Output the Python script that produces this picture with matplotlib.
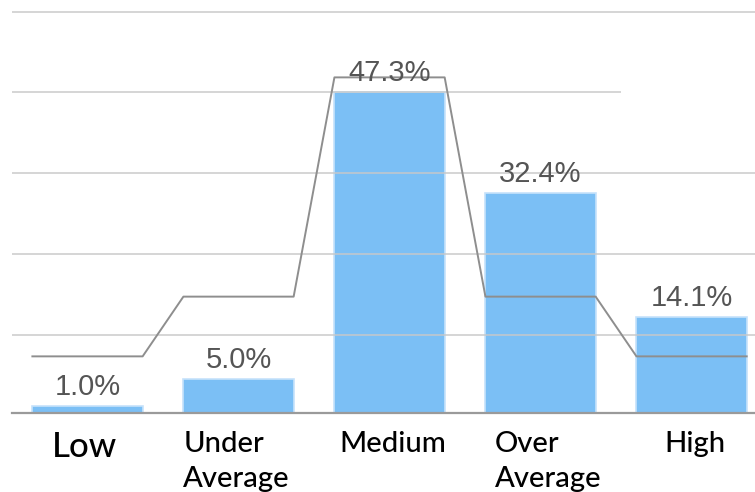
import numpy as np
import matplotlib
matplotlib.use("Agg")
import matplotlib.pyplot as plt
from matplotlib.transforms import offset_copy

# data
categories = ["Low", "Under\nAverage", "Medium", "Over\nAverage", "High"]
shares = [1.0, 5.0, 47.3, 32.4, 14.1]
reference = [8.3, 17.1, 49.4, 17.1, 8.3]
grid_levels = [11.5, 23.4, 35.3, 47.2, 59.0]

bar_color = "#7bbff5"
bar_edge = "#c6e2fb"
width = 0.73

fig = plt.figure(figsize=(7.55, 4.92), dpi=100)
ax = fig.add_axes([12 / 755, 1 - 412.7 / 492, 743 / 755, 412.7 / 492])
ax.set_xlim(-0.5, 4.42)
ax.set_ylim(0, 60.8)

x = np.arange(len(categories))
ax.bar(x, shares, width=width, color=bar_color, edgecolor=bar_edge,
       linewidth=1.2, zorder=2)

# gridlines (on top, faint); the 4th one stops short in the original
for i, g in enumerate(grid_levels):
    xmax = 3.53 if i == 3 else 4.42
    ax.hlines(g, -0.5, xmax, color="#c8c8c8", linewidth=1.4, alpha=0.75,
              zorder=3)

# step-like reference line spanning each bar
lx, ly = [], []
for xi, r in zip(x, reference):
    lx += [xi - width / 2, xi + width / 2]
    ly += [r, r]
ax.plot(lx, ly, color="#8e8e8e", linewidth=1.4, zorder=4)

# value labels
for xi, s in zip(x, shares):
    ax.annotate(f"{s:.1f}%", (xi, s), xytext=(0, 7.9), textcoords="offset points",
                ha="center", va="baseline", fontsize=21, color="#555555",
                family="Liberation Sans", zorder=5)

# category labels
lab = dict(family="Lato", color="black", fontweight="medium")
for xi, c in zip(x, categories):
    if c == "Low":
        ax.text(xi - 0.02, 0, c, transform=offset_copy(ax.transData, fig, y=-31.9, units="points"),
                ha="center", va="baseline", fontsize=25, **lab)
    elif "\n" in c:
        # baseline alignment uses the last line here
        ax.text(xi - width / 2 + (0.0 if xi == 1 else 0.06), 0, c,
                transform=offset_copy(ax.transData, fig, y=-53.5, units="points"),
                ha="left", va="baseline", fontsize=21, linespacing=1.45, **lab)
    else:
        ax.text(xi + 0.02, 0, c, transform=offset_copy(ax.transData, fig, y=-28.0, units="points"),
                ha="center", va="baseline", fontsize=21, **lab)

ax.set_xticks([])
ax.set_yticks([])
for side in ["top", "right", "left"]:
    ax.spines[side].set_visible(False)
ax.spines["bottom"].set_color("#9a9a9a")
ax.spines["bottom"].set_linewidth(1.6)
ax.spines["bottom"].set_zorder(6)

fig.savefig("out.png", dpi=100)
